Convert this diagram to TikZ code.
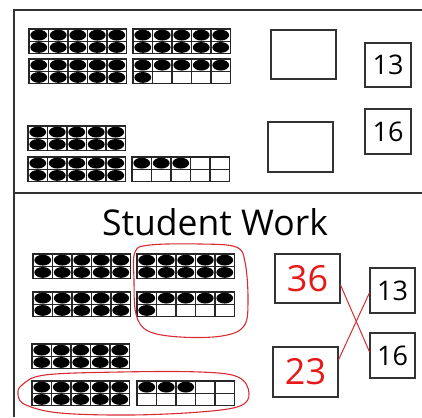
\documentclass[tikz,border=0pt]{standalone}
\usepackage{fontspec}
\setmainfont{Open Sans}
\usetikzlibrary{calc}
\definecolor{penred}{RGB}{215,45,50}
\definecolor{numred}{RGB}{230,25,25}
\tikzset{
  frameline/.style={line width=1.6pt, draw=black!80},
  cell/.style={line width=1.2pt, draw=black!85},
  dot/.style={fill=black},
  numbox/.style={draw=black!80, line width=1.1pt, inner sep=0pt, font=\fontsize{27}{32}\selectfont},
  bigbox/.style={draw=black!80, line width=1.1pt, inner sep=0pt, font=\fontsize{36}{42}\selectfont, text=numred},
  loop/.style={draw=penred, line width=1.1pt},
  match/.style={draw=penred, line width=1pt}
}
\newcommand{\tenfr}[3]{%
  \foreach \k in {0,...,9}{%
    \pgfmathsetmacro\cx{#1+mod(\k,5)*19.5}%
    \pgfmathsetmacro\cy{#2+floor(\k/5)*12.3}%
    \draw[cell] (\cx,\cy) rectangle ++(19.5,12.3);
    \ifnum\k<#3\relax
      \fill[dot] (\cx+9.75,\cy+6.15) ellipse [x radius=8.4pt, y radius=5.4pt];
    \fi
  }%
}
\begin{document}
\begin{tikzpicture}[x=1pt,y=-1pt]
\useasboundingbox (0,0) rectangle (422,417);
% outer lines
\draw[frameline] (14,417) -- (14,10) -- (422,10);
\draw[frameline] (14,193) -- (422,193);
% top section ten frames
\tenfr{29}{29}{10}
\tenfr{133}{29}{10}
\tenfr{29}{59}{10}
\tenfr{133}{59}{6}
\tenfr{28}{126}{10}
\tenfr{28}{157}{10}
\tenfr{132}{157}{3}
% top boxes
\node[numbox, minimum width=65pt, minimum height=49pt] (ta) at (303.5,54.5) {};
\node[numbox, minimum width=46pt, minimum height=44pt] (t13) at (388,65) {13};
\node[numbox, minimum width=65pt, minimum height=50pt] (tb) at (300.5,147) {};
\node[numbox, minimum width=46pt, minimum height=45pt] (t16) at (388,131.5) {16};
% title
\node[font=\fontsize{35.5}{40}\selectfont, anchor=base] (title) at (215,235) {Student Work};
% bottom ten frames
\tenfr{33}{254}{10}
\tenfr{137}{254}{10}
\tenfr{33}{292}{10}
\tenfr{137}{292}{6}
\tenfr{32}{344}{10}
\tenfr{32}{381}{10}
\tenfr{137}{381}{3}
% red loops
\draw[loop] plot[smooth cycle, tension=0.6] coordinates {(135,252) (150,245) (200,244) (236,247) (245,262) (248,300) (244,326) (222,336) (180,337) (148,331) (136,314) (134,280)};
\draw[loop] plot[smooth cycle, tension=0.6] coordinates {(22,385) (45,375) (120,372) (200,372) (238,377) (249,393) (240,406) (200,412) (130,415) (60,413) (26,405) (18,395)};
% bottom boxes
\node[bigbox, minimum width=65pt, minimum height=49pt] (b36) at (307.5,278.5) {36};
\node[bigbox, minimum width=65pt, minimum height=50pt] (b23) at (305.5,372) {23};
\node[numbox, minimum width=45pt, minimum height=45pt] (b13) at (392.5,290.5) {13};
\node[numbox, minimum width=45pt, minimum height=45pt] (b16) at (392.5,355.5) {16};
% matching lines
\draw[match] ($(b36.north east)!0.63!(b36.south east)$) -- ($(b16.north west)!0.42!(b16.south west)$);
\draw[match] ($(b23.north east)!0.26!(b23.south east)$) -- ($(b13.north west)!0.55!(b13.south west)$);
\end{tikzpicture}
\end{document}
